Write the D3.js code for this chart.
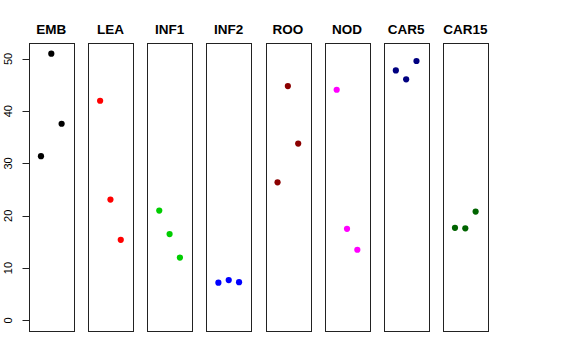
<!DOCTYPE html>
<html>
<head>
<meta charset="utf-8">
<script src="https://cdn.jsdelivr.net/npm/d3@7"></script>
<style>
html,body{margin:0;padding:0;background:#fff;}
svg{display:block;}
</style>
</head>
<body>
<svg id="chart" width="576" height="360"></svg>
<script>
const categories = ["EMB","LEA","INF1","INF2","ROO","NOD","CAR5","CAR15"];
const colors = ["#000000","#FF0000","#00CD00","#0000FF","#8B0000","#FF00FF","#000080","#006400"];
const EMB = [31.4, 51.0, 37.6];
const LEA = [42.0, 23.1, 15.4];
const INF1 = [21.0, 16.5, 12.0];
const INF2 = [7.2, 7.7, 7.3];
const ROO = [26.4, 44.8, 33.8];
const NOD = [44.1, 17.5, 13.5];
const CAR5 = [47.8, 46.1, 49.6];
const CAR15 = [17.7, 17.6, 20.8];
const yTicks = [0, 10, 20, 30, 40, 50];

const seriesValues = [EMB, LEA, INF1, INF2, ROO, NOD, CAR5, CAR15];

const svg = d3.select("#chart");
const plotTop = 43, plotBottom = 331;

const band = d3.scaleBand().domain(categories).range([29, 487.6]).paddingInner(0.246).paddingOuter(0);
const y = d3.scaleLinear().domain([-2.04, 53.04]).range([plotBottom, plotTop]);

categories.forEach((cat, i) => {
  const left = band(cat);
  const w = band.bandwidth();
  const x = d3.scaleLinear().domain([-0.16, 4.16]).range([left, left + w]);
  const g = svg.append("g");
  g.append("rect")
    .attr("x", Math.round(left) + 0.5).attr("y", plotTop + 0.5)
    .attr("width", Math.round(w)).attr("height", plotBottom - plotTop)
    .attr("fill", "none").attr("stroke", "#222").attr("stroke-width", 1);
  g.append("text")
    .attr("x", left + w / 2).attr("y", 33.8)
    .attr("text-anchor", "middle")
    .attr("font-family", "Liberation Sans, Arial, sans-serif")
    .attr("font-weight", "bold").attr("font-size", 13.5)
    .text(cat);
  g.selectAll("circle").data(seriesValues[i]).enter().append("circle")
    .attr("cx", (d, j) => x(j + 1))
    .attr("cy", d => y(d))
    .attr("r", 3.1)
    .attr("fill", colors[i]);
});

// y axis
const axisX = Math.round(band(categories[0])) + 0.5;
const ax = svg.append("g");
ax.append("line")
  .attr("x1", axisX).attr("x2", axisX)
  .attr("y1", y(0)).attr("y2", y(50))
  .attr("stroke", "#222");
yTicks.forEach(v => {
  ax.append("line")
    .attr("x1", axisX).attr("x2", axisX - 7)
    .attr("y1", Math.round(y(v)) + 0.5).attr("y2", Math.round(y(v)) + 0.5)
    .attr("stroke", "#222");
  ax.append("text")
    .attr("transform", `translate(12,${y(v)}) rotate(-90)`)
    .attr("text-anchor", "middle")
    .attr("font-family", "Liberation Sans, Arial, sans-serif")
    .attr("font-size", 11)
    .attr("fill", "#000")
    .text(v);
});
</script>
</body>
</html>
